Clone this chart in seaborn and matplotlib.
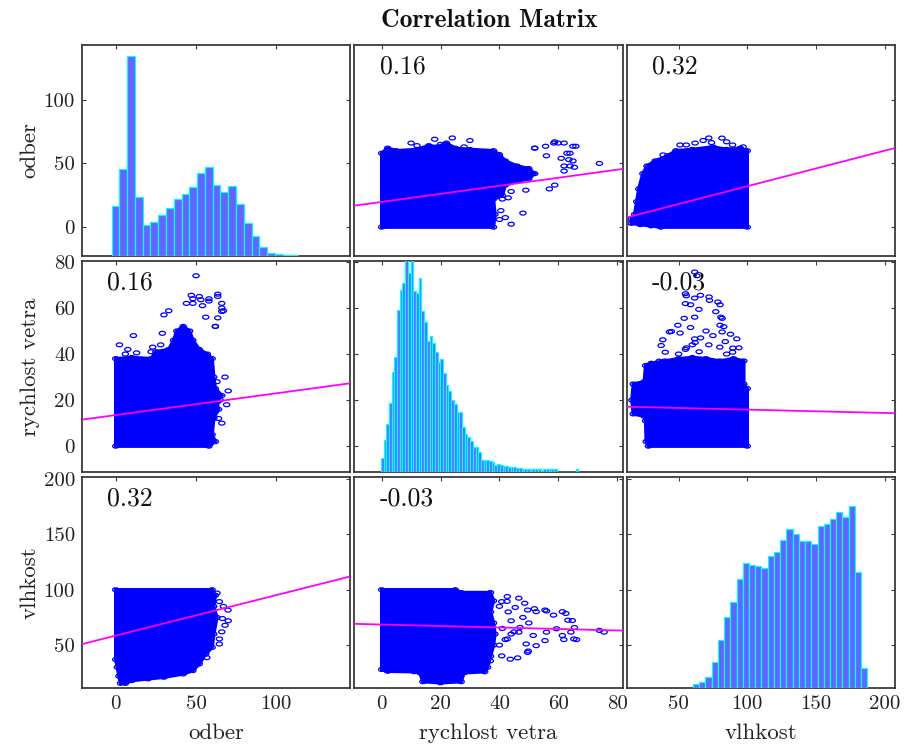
import matplotlib
matplotlib.use('Agg')
import matplotlib.pyplot as plt
import seaborn as sns
from matplotlib.markers import MarkerStyle
from matplotlib.transforms import Affine2D

sns.set_theme(style="white")
plt.rcParams['font.family'] = ['cmr10', 'DejaVu Serif']
plt.rcParams['axes.unicode_minus'] = False
plt.rcParams['axes.formatter.use_mathtext'] = True

names = ['odber', 'rychlost vetra', 'vlhkost']
x_limits = [(-21, 146), (-9.3, 81.9), (12.2, 207.6)]
y_limits = [(-22.6, 143), (-11.2, 80.4), (11.3, 201.8)]
ticks = [[0, 50, 100], [0, 20, 40, 60, 80], [50, 100, 150, 200]]
corr = [[1.0, 0.16, 0.32], [0.16, 1.0, -0.03], [0.32, -0.03, 1.0]]

# least squares lines, y of row variable on x of column variable
fit_slope = [[None, 0.316, 0.279], [0.0946, None, -0.0144], [0.366, -0.067, None]]
fit_intercept = [[None, 19.8, 4.2], [13.5, None, 17.3], [58.6, 68.6, None]]

# diagonal histograms (bar heights read in axis units above the panel floor)
odber_bin_start, odber_bin_width = -2.6, 4.84
odber_hist = [39, 68, 157, 46, 24, 27, 32, 38, 45, 49, 54, 65, 69.6, 56, 50, 55,
              41, 26, 15.4, 6.8, 2.1, 1.8, 1, 1]
rychlost_bin_start, rychlost_bin_width = -0.3, 0.92
rychlost_hist = [6.0, 14.0, 20.7, 30.0, 43.6, 50.0, 70.5, 79.1, 81.9, 93, 86.5, 94,
                 78.6, 77.9, 84.4, 70.1, 65.1, 56.8, 59.1, 55.8, 52.2, 47.6, 49.0,
                 42.9, 37.9, 35.3, 31.2, 29.3, 26.2, 26.2, 19.6, 16.4, 15.0, 13.6,
                 10.7, 10.7, 8.6, 5.3, 5.4, 5.3, 4.6, 4.3, 3.1, 3.3, 2.9, 2.6,
                 2.4, 2.2, 2.0, 2.0, 1.8, 1.8, 1.2, 1.2, 1.2, 1.2, 1.2, 1.2, 1.2,
                 0, 1.2, 1.2, 1.2, 1.2, 1.2, 0, 0, 0, 0, 0, 0, 0, 1.2]
vlhkost_bin_start, vlhkost_bin_width = 60.4, 4.54
vlhkost_hist = [3.7, 5.8, 9.9, 23.3, 43.6, 63.9, 78, 98.6, 112.7, 111.2, 110.2,
                108.7, 119.5, 122.8, 133.3, 144, 139.4, 132.7, 132.7, 130.1, 146.1,
                148, 152.9, 159, 154.7, 164.7, 105, 17.7]

# dense part of each scatter cloud (outline) and the stray points around it
or_cloud_rychlost = [0, 38, 38.5, 38, 41, 42, 46, 50, 52, 50, 46, 42, 40, 38, 30,
                     25, 22, 19, 16, 12, 5, 2, 0]
or_cloud_odber = [0, 0, 10, 22, 25, 33, 36, 38, 42, 46, 48, 52, 57, 60, 61, 62, 66,
                  63, 64, 61, 60, 62, 58]
or_pts_odber = [50, 47, 52, 54, 58, 63.5, 66, 67, 33, 56, 62, 68, 70, 69, 66, 62,
                63.5, 66, 66, 63.5, 58, 53, 48, 30, 29, 28, 23, 22, 11, 13, 7.5,
                2.3, 6, 44, 48, 64, 65, 63]
or_pts_rychlost = [74, 65.5, 65, 61, 64, 66, 60, 58.8, 58.8, 56, 52, 30, 24, 18, 10,
                   52, 55.7, 58.5, 62, 65, 63, 63.6, 62, 57, 49, 44, 43, 41, 48,
                   40.5, 42, 44, 40, 62, 64, 12, 20, 28]

ov_cloud_odber = [0, 0, 60, 62, 61, 63, 61, 60, 56, 52, 48, 42, 30, 20, 10, 6, 3,
                  2, 1]
ov_cloud_vlhkost = [37, 100, 100, 95, 85, 75, 60, 48, 42, 33, 27, 24, 21, 19.5, 18,
                    15.5, 15.5, 22, 30]
ov_pts_odber = [64.5, 69.9, 66.4, 68, 64.5, 64.5, 56.7, 63, 66, 70, 67]
ov_pts_vlhkost = [89.3, 81.6, 74, 67.9, 55.6, 51, 38.7, 97, 62, 72, 85]

rv_cloud_rychlost = [0, 0, 25, 27, 37, 38, 37, 38, 38.5, 38, 37, 36, 35, 28, 27, 20,
                     14, 13, 11, 2]
rv_cloud_vlhkost = [28, 100, 100, 97.5, 97.5, 90, 80, 70, 60, 50, 40, 30, 26, 25,
                    17, 16, 17, 25, 26, 26.4]
rv_pts_rychlost = [40.8, 42.7, 46.6, 48.6, 49.6, 52.5, 55.5, 58.4, 61.4, 63.3, 59.4,
                   64.3, 65.3, 61.4, 74, 46.6, 51.5, 55.5, 52.5, 49.6, 42.7, 40.8,
                   43.7, 36.9, 66.2, 61.9, 65.5, 64.8, 62.6, 56, 56, 51.9, 45.4,
                   42.6, 46.2, 49.1, 49.8, 75.6, 40, 42, 44, 45, 47, 50, 48, 44,
                   41, 43, 40]
rv_pts_vlhkost = [89.3, 93.9, 92.4, 87.8, 81.7, 80.2, 81.7, 77.1, 80.2, 72.5, 64.8,
                  61.7, 55.6, 58.7, 63.3, 61.7, 58.7, 54.1, 49.5, 43.4, 55.6, 40.3,
                  37.3, 35.8, 55, 55, 65.9, 72.2, 78.6, 61.7, 80.8, 82.9, 84, 89.5,
                  38.5, 51.1, 44.7, 61.7, 50, 55, 60, 62, 66, 70, 75, 72, 65, 80,
                  85]

hists = [(odber_bin_start, odber_bin_width, odber_hist),
         (rychlost_bin_start, rychlost_bin_width, rychlost_hist),
         (vlhkost_bin_start, vlhkost_bin_width, vlhkost_hist)]
# (x variable, y variable) for the lower panel of each pair; upper panel is swapped
clouds = {(1, 0): (or_cloud_odber, or_cloud_rychlost, or_pts_odber, or_pts_rychlost),
          (2, 0): (ov_cloud_odber, ov_cloud_vlhkost, ov_pts_odber, ov_pts_vlhkost),
          (2, 1): (rv_cloud_rychlost, rv_cloud_vlhkost, rv_pts_rychlost, rv_pts_vlhkost)}

fig, axes = plt.subplots(3, 3, figsize=(9.09, 7.47), dpi=100)
fig.subplots_adjust(left=0.0902, right=0.9846, top=0.9398, bottom=0.0790,
                    wspace=0.015, hspace=0.024)
marker = MarkerStyle('o', transform=Affine2D().scale(1.6, 1.0))
frame = '#3a3a3a'

for i in range(3):
    for j in range(3):
        ax = axes[i, j]
        ax.set_xlim(*x_limits[j])
        ax.set_ylim(*y_limits[i])
        if i == j:
            start, width, heights = hists[i]
            edges = [start + k * width for k in range(len(heights) + 1)]
            centers = [start + (k + 0.5) * width for k in range(len(heights))]
            tw = ax.twinx()
            tw.set_ylim(0, y_limits[i][1] - y_limits[i][0])
            sns.histplot(x=centers, weights=heights, bins=edges, ax=tw, stat='count',
                         color='#6464ff', edgecolor='#00ffff', linewidth=0.9, alpha=1)
            tw.set_yticks([])
            tw.set_ylabel('')
            tw.set_xlim(*x_limits[j])
            for s in tw.spines.values():
                s.set_visible(False)
        else:
            if i > j:
                cx, cy, px, py = clouds[(i, j)]
            else:
                cy, cx, py, px = clouds[(j, i)]
            ax.fill(cx, cy, facecolor='blue', edgecolor='blue', lw=2.5, zorder=2)
            # outline vertices drawn as markers too, giving the bumpy cloud edge
            sns.scatterplot(x=cx, y=cy, ax=ax, marker=marker, s=8, color='blue',
                            linewidth=0.9, zorder=2)
            sns.scatterplot(x=px, y=py, ax=ax, marker=marker, s=8, color='blue',
                            linewidth=0.9, zorder=3)
            for coll in ax.collections[-2:]:
                coll.set_facecolor('none')
                coll.set_edgecolor('blue')
            xs = list(x_limits[j])
            ys = [fit_intercept[i][j] + fit_slope[i][j] * v for v in xs]
            sns.lineplot(x=xs, y=ys, ax=ax, color='magenta', lw=1.3, zorder=4)
            ax.text(0.095, 0.955, f'{corr[i][j]:.2f}', transform=ax.transAxes,
                    ha='left', va='top', fontsize=18.5, color='#111111', zorder=5)
        ax.set_xticks(ticks[j])
        ax.set_yticks(ticks[i])
        ax.tick_params(direction='in', length=3, width=0.8, top=True, right=True,
                       colors=frame, labelcolor='#222222', labelsize=15, pad=5)
        if j == 0:
            ax.set_yticklabels([str(t) for t in ticks[i]])
            ax.set_ylabel(names[i], fontsize=16.5, color='#222222')
            ax.yaxis.set_label_coords(-0.157, 0.5)
        else:
            ax.set_yticklabels([])
        if i == 2:
            ax.set_xticklabels([str(t) for t in ticks[j]])
            ax.set_xlabel(names[j], fontsize=16.5, color='#222222', va='top')
            ax.xaxis.set_label_coords(0.5, -0.168)
        else:
            ax.set_xticklabels([])
        for s in ax.spines.values():
            s.set_color(frame)
            s.set_linewidth(1.3)

fig.suptitle('Correlation Matrix', fontfamily='cmb10', fontsize=18.5, x=0.538,
             y=0.973, va='center', color='#111111')
fig.savefig('out.png', dpi=100)
